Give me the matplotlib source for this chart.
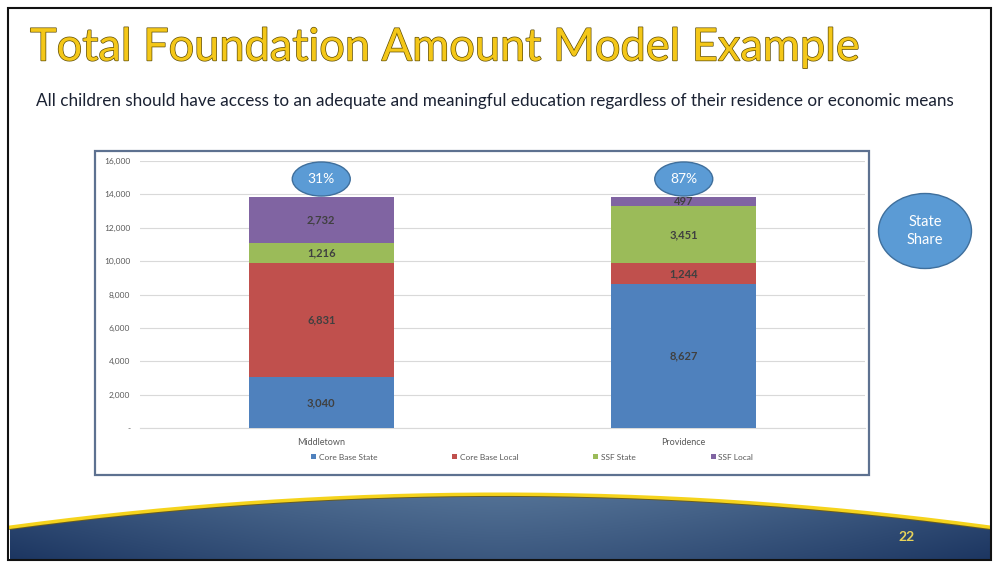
import numpy as np
import matplotlib.pyplot as plt
from matplotlib.patches import Ellipse, Rectangle, Polygon
import matplotlib.patheffects as pe

# data
towns = ['Middletown', 'Providence']
series = ['Core Base State', 'Core Base Local', 'SSF State', 'SSF Local']
core_state = [3040, 8627]
core_local = [6831, 1244]
ssf_state = [1216, 3451]
ssf_local = [2732, 497]
state_share = ['31%', '87%']
yticks = [0, 2000, 4000, 6000, 8000, 10000, 12000, 14000, 16000]

colors = ['#4F81BD', '#C0504D', '#9BBB59', '#8064A2']
plt.rcParams['font.family'] = ['Lato', 'DejaVu Sans']

fig = plt.figure(figsize=(10, 5.7), dpi=100)

# slide background, pixel coordinates
bg = fig.add_axes([0, 0, 1, 1])
bg.set_xlim(0, 1000)
bg.set_ylim(570, 0)
bg.axis('off')

# bottom wave
xs = np.linspace(10, 990, 200)
top = 495 + 33 * ((xs - 500) / 490) ** 2
poly = Polygon(np.vstack([np.column_stack([xs, top]), [[990, 560], [10, 560]]]),
               closed=True, facecolor='none', edgecolor='none')
bg.add_patch(poly)
gx, gy = np.meshgrid(np.linspace(-1, 1, 300), np.linspace(0, 1, 80))
t = np.clip(1 - 0.55 * np.abs(gx) ** 1.5 - 0.45 * gy, 0, 1)
dark = np.array([0.11, 0.21, 0.38])
light = np.array([0.33, 0.45, 0.59])
img = dark + (light - dark) * t[..., None]
im = bg.imshow(img, extent=[10, 990, 560, 490], aspect='auto', zorder=1)
im.set_clip_path(poly)
bg.plot(xs, top + 1.2, color='#6b5d1c', lw=1.0, zorder=2)
bg.plot(xs, top - 0.8, color='#F5D31C', lw=2.5, zorder=3)
bg.text(907, 537, '22', color='#E8D35A', fontsize=10, fontweight='bold',
        ha='center', va='center', zorder=4)

# slide frame
bg.add_patch(Rectangle((8, 8), 983, 552, fill=False, edgecolor='#111111', lw=1.5, zorder=5))

# title and subtitle
bg.text(30, 48, 'Total Foundation Amount Model Example', fontsize=32.5, color='#F4C718',
        ha='left', va='center',
        path_effects=[pe.Stroke(linewidth=1.0, foreground='#5e4d08'), pe.Normal()])
bg.text(36, 101, 'All children should have access to an adequate and meaningful education '
        'regardless of their residence or economic means',
        fontsize=12.3, color='#1b2233', ha='left', va='center')

# chart box
bg.add_patch(Rectangle((95, 151), 774, 324, facecolor='white', edgecolor='#5d7190', lw=1.6))

# state share bubble
bg.add_patch(Ellipse((925, 231), 93, 75, facecolor='#5B9BD5', edgecolor='#3f6f9c', lw=1))
bg.text(925, 231, 'State\nShare', color='white', fontsize=10.5, ha='center', va='center',
        linespacing=1.3)

# chart
ax = fig.add_axes([0.140, (570 - 428) / 570, 0.725, 267 / 570])
ax.set_zorder(2)
ax.patch.set_alpha(0)
x = np.arange(len(towns))
stack = [core_state, core_local, ssf_state, ssf_local]
bottom = np.zeros(len(towns))
handles = []
for vals, col, name in zip(stack, colors, series):
    bars = ax.bar(x, vals, 0.4, bottom=bottom, color=col, label=name, zorder=3)
    handles.append(bars)
    for xi, v, b in zip(x, vals, bottom):
        ax.text(xi, b + v / 2, f'{v:,}', ha='center', va='center', fontsize=8,
                fontweight='bold', color='#404040', zorder=4)
    bottom += np.array(vals)

for xi, s in zip(x, state_share):
    ax.add_patch(Ellipse((xi, 14920), 0.16, 2040, facecolor='#5B9BD5', edgecolor='#3f6f9c',
                         lw=1, clip_on=False, zorder=5))
    ax.text(xi, 14920, s, color='white', fontsize=10, ha='center', va='center', zorder=6)

ax.set_xlim(-0.5, 1.5)
ax.set_ylim(0, 16000)
ax.set_yticks(yticks)
ax.set_yticklabels(['-' if v == 0 else f'{v:,}' for v in yticks])
ax.set_xticks(x)
ax.set_xticklabels(towns)
ax.grid(axis='y', color='#d9d9d9', lw=0.8, zorder=0)
ax.set_axisbelow(True)
for s in ['top', 'right', 'left']:
    ax.spines[s].set_visible(False)
ax.spines['bottom'].set_color('#d9d9d9')
ax.tick_params(axis='y', length=0, labelsize=6, labelcolor='#595959', pad=7)
ax.tick_params(axis='x', length=0, labelsize=6.5, labelcolor='#595959', pad=7)

fig.legend(handles=handles, labels=series, loc='center', bbox_to_anchor=(0.532, (570 - 457) / 570),
           ncol=4, frameon=False, fontsize=6, labelcolor='#595959', handlelength=0.6,
           handleheight=0.6, handletextpad=0.3, columnspacing=9)

fig.savefig('out.png', dpi=100)
